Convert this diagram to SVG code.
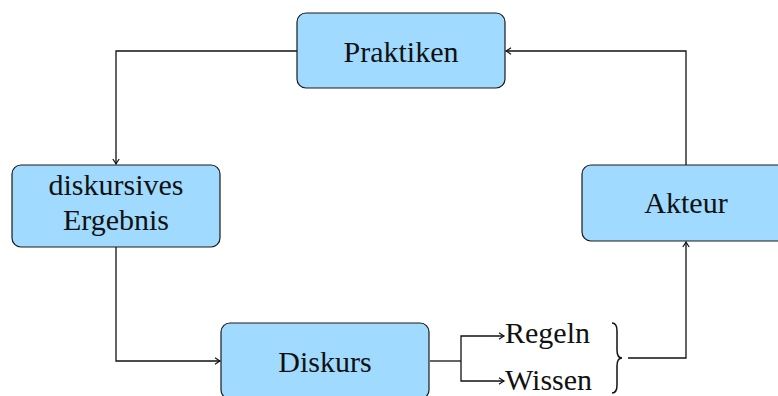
<svg xmlns="http://www.w3.org/2000/svg" width="778" height="396" viewBox="0 0 778 396">
<style>
.box{fill:#a0dbff;stroke:#1a1a1a;stroke-width:1.2}
.lbl{font-family:"Liberation Serif","Times New Roman",serif;font-size:30px;fill:#111}
.c{text-anchor:middle}
.conn{fill:none;stroke:#111;stroke-width:1.3}
</style>
<defs>
<marker id="ah" viewBox="-6 -4 7 8" markerWidth="7" markerHeight="8" refX="0" refY="0" orient="auto" markerUnits="userSpaceOnUse">
<path d="M-5,-3.2 Q-1.5,-0.8 0,0 Q-1.5,0.8 -5,3.2" fill="none" stroke="#111" stroke-width="1.2"/>
</marker>
</defs>
<rect x="0" y="0" width="778" height="396" fill="#fff"/>
<g id="connectors">
<path class="conn" d="M297,51 H116 V164" marker-end="url(#ah)"/>
<path class="conn" d="M116,247 V361 H220" marker-end="url(#ah)"/>
<path class="conn" d="M430,361 H461"/>
<path class="conn" d="M461,361 V336 H504" marker-end="url(#ah)"/>
<path class="conn" d="M461,361 V381 H504" marker-end="url(#ah)"/>
<path class="conn" d="M628,358 H686 V242" marker-end="url(#ah)"/>
<path class="conn" d="M686,165 V51 H506" marker-end="url(#ah)"/>
</g>
<g id="praktiken">
<rect class="box" x="297" y="13" width="208" height="75" rx="9"/>
<text class="lbl c" x="401" y="62">Praktiken</text>
</g>
<g id="diskursives-ergebnis">
<rect class="box" x="12" y="165" width="208" height="82" rx="9"/>
<text class="lbl c" x="116" y="195">diskursives</text>
<text class="lbl c" x="116" y="230">Ergebnis</text>
</g>
<g id="akteur">
<rect class="box" x="582" y="165" width="208" height="76" rx="9"/>
<text class="lbl c" x="686" y="213">Akteur</text>
</g>
<g id="diskurs">
<rect class="box" x="221" y="323" width="208" height="76" rx="9"/>
<text class="lbl c" x="325" y="372">Diskurs</text>
</g>
<g id="regeln">
<text class="lbl" x="505" y="343">Regeln</text>
</g>
<g id="wissen">
<text class="lbl" x="505" y="390">Wissen</text>
</g>
<g id="brace">
<path d="M612,323 Q617,323 617,331 L617,350 Q617,358 622,358 Q617,358 617,366 L617,385 Q617,393 612,393" fill="none" stroke="#111" stroke-width="1.5"/>
</g>
</svg>
